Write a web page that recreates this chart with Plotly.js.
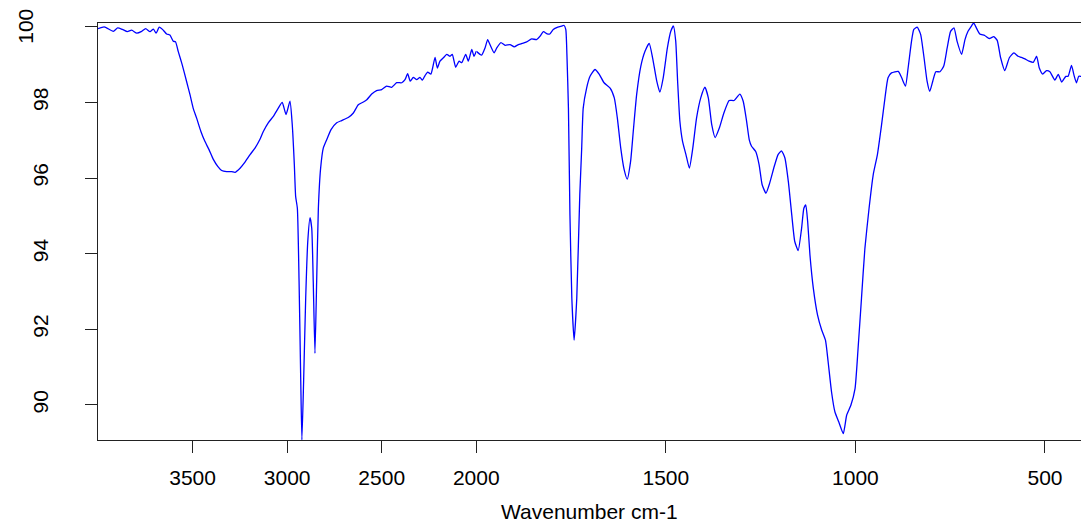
<!DOCTYPE html>
<html>
<head>
<meta charset="utf-8">
<script src="https://cdn.plot.ly/plotly-3.0.1.min.js"></script>
<style>html,body{margin:0;padding:0;background:#fff;}#chart{width:1081px;height:524px;}</style>
</head>
<body>
<div id="chart"></div>
<script>
// Wavenumber (cm-1), descending
const wavenumber = [4000,3967,3919,3896,3871,3845,3822,3795,3769,3748,3725,3707,3693,3676,3655,3637,3620,3602,3590,3576,3555,3532,3514,3497,3479,3456,3435,3413,3391,3367,3346,3320,3293,3276,3249,3223,3196,3170,3143,3126,3100,3073,3047,3026,3006,2985,2973,2962,2955,2946,2937,2928,2922,2913,2902,2891,2879,2870,2862,2853,2844,2835,2823,2809,2791,2768,2738,2712,2677,2650,2624,2597,2579,2553,2527,2500,2474,2447,2421,2394,2377,2363,2349,2333,2315,2298,2285,2271,2257,2240,2231,2218,2206,2192,2174,2156,2139,2127,2109,2091,2077,2056,2042,2024,2012,2000,1986,1977,1970,1964,1953,1946,1935,1924,1911,1900,1889,1879,1867,1854,1841,1832,1823,1813,1806,1797,1785,1775,1769,1764,1761,1757,1753,1748,1742,1735,1727,1722,1718,1709,1700,1687,1676,1663,1647,1636,1628,1619,1610,1602,1593,1586,1577,1566,1555,1544,1535,1524,1516,1507,1496,1487,1480,1474,1469,1463,1456,1447,1438,1429,1419,1408,1397,1388,1379,1370,1359,1347,1333,1320,1305,1296,1287,1280,1274,1263,1254,1246,1236,1226,1214,1204,1195,1186,1177,1168,1160,1151,1142,1136,1131,1126,1120,1111,1100,1089,1079,1072,1063,1054,1044,1032,1023,1012,1001,993,984,975,964,953,942,931,922,914,905,887,878,868,861,852,846,837,828,819,811,804,796,788,777,767,758,749,740,732,720,711,703,694,688,681,672,659,647,635,626,617,606,594,582,571,562,553,542,531,522,515,506,496,487,474,465,456,445,439,430,424,417,411,405,400];
// Transmittance (%)
const transmittance = [99.95,100.0,99.88,99.97,99.93,99.87,99.91,99.83,99.88,99.95,99.87,99.94,99.83,99.99,99.91,99.81,99.78,99.62,99.60,99.35,99.0,98.56,98.21,97.85,97.59,97.23,96.97,96.75,96.50,96.31,96.20,96.17,96.17,96.15,96.26,96.42,96.62,96.79,97.03,97.23,97.46,97.63,97.85,98.00,97.68,98.03,97.41,96.35,95.51,95.20,93.26,90.61,89.07,90.61,92.82,94.32,94.95,94.67,93.26,91.36,93.26,95.20,96.26,96.79,97.01,97.28,97.46,97.52,97.60,97.72,97.94,98.01,98.07,98.22,98.31,98.34,98.43,98.40,98.52,98.52,98.60,98.76,98.56,98.66,98.60,98.66,98.59,98.71,98.80,98.75,98.91,99.19,98.91,99.09,99.18,99.27,99.22,99.27,98.93,99.09,99.05,99.27,99.09,99.40,99.22,99.35,99.25,99.44,99.66,99.53,99.31,99.44,99.58,99.51,99.53,99.47,99.53,99.56,99.60,99.68,99.66,99.75,99.87,99.81,99.81,99.93,99.99,100.02,100.04,99.93,99.27,97.85,95.03,92.82,91.71,92.82,95.56,96.79,97.85,98.38,98.69,98.87,98.75,98.52,98.38,98.12,97.59,96.79,96.22,95.97,96.44,97.23,98.21,98.96,99.35,99.56,99.18,98.56,98.27,98.65,99.44,99.88,100.02,99.62,98.56,97.50,96.97,96.62,96.26,96.79,97.59,98.12,98.40,98.12,97.41,97.07,97.32,97.72,98.05,98.05,98.22,98.03,97.50,97.01,96.84,96.70,96.35,95.82,95.60,95.87,96.31,96.62,96.72,96.53,95.91,95.03,94.32,94.08,94.67,95.20,95.29,94.85,93.97,93.08,92.38,91.98,91.71,91.14,90.34,89.81,89.55,89.24,89.73,89.99,90.43,91.49,92.82,94.14,95.20,96.09,96.62,97.41,98.12,98.65,98.78,98.82,98.65,98.43,98.91,99.62,99.93,99.99,99.80,99.18,98.56,98.29,98.56,98.81,98.81,98.96,99.44,99.88,99.97,99.62,99.27,99.66,99.88,100.02,100.10,99.97,99.81,99.77,99.69,99.74,99.64,99.18,98.84,99.18,99.31,99.22,99.19,99.15,99.09,99.06,99.22,98.91,98.75,98.84,98.81,98.59,98.74,98.54,98.69,98.69,98.98,98.74,98.52,98.69,98.69,98.69];

const highTicks = [3500, 3000, 2500];
const lowTicks = [2000, 1500, 1000, 500];
const yTicks = [90, 92, 94, 96, 98, 100];
const xTitle = "Wavenumber cm-1";

const hiX = [], hiY = [], loX = [], loY = [];
wavenumber.forEach((w, i) => {
  if (w >= 2000) { hiX.push(w); hiY.push(transmittance[i]); }
  if (w <= 2000) { loX.push(w); loY.push(transmittance[i]); }
});

const split = (476.3 - 98) / 983;
const font = {family: "Liberation Sans, Arial, sans-serif", size: 21, color: "#000"};
const lineStyle = {color: "#0000ff", width: 1.3, shape: "spline", smoothing: 0.5};

const axisCommon = {
  showgrid: false, zeroline: false, showline: true, linecolor: "#222", linewidth: 1,
  mirror: true, ticks: "outside", ticklen: 12, tickcolor: "#222", tickwidth: 1,
  tickfont: font, tickmode: "array", ticklabelstandoff: 7
};

const data = [
  {x: hiX, y: hiY, type: "scatter", mode: "lines", line: lineStyle, xaxis: "x", yaxis: "y", hoverinfo: "skip"},
  {x: loX, y: loY, type: "scatter", mode: "lines", line: lineStyle, xaxis: "x2", yaxis: "y", hoverinfo: "skip"}
];

const topY = yTicks[yTicks.length - 1];
const layout = {
  width: 1081, height: 524,
  margin: {l: 98, r: 0, t: 23, b: 84},
  paper_bgcolor: "#fff", plot_bgcolor: "#fff",
  showlegend: false,
  xaxis: Object.assign({}, axisCommon, {domain: [0, split], range: [4000, 2000], tickvals: highTicks, ticktext: highTicks.map(String)}),
  xaxis2: Object.assign({}, axisCommon, {domain: [split, 1], range: [2000, 405], anchor: "y", tickvals: lowTicks, ticktext: lowTicks.map(String)}),
  yaxis: Object.assign({}, axisCommon, {mirror: false, range: [89.07, 100.1], tickvals: yTicks,
    ticktext: yTicks.map(v => v === topY ? "" : String(v)), tickangle: -90, ticklabelstandoff: 29}),
  annotations: [
    {text: xTitle, xref: "paper", yref: "paper", x: 0.5, y: -0.172, xanchor: "center", yanchor: "middle",
     showarrow: false, font: font},
    {text: String(topY), xref: "paper", yref: "y", x: (26 - 98) / 983, y: topY, xanchor: "center", yanchor: "middle",
     textangle: -90, showarrow: false, font: font}
  ]
};

Plotly.newPlot("chart", data, layout, {staticPlot: true, displayModeBar: false});
</script>
</body>
</html>
